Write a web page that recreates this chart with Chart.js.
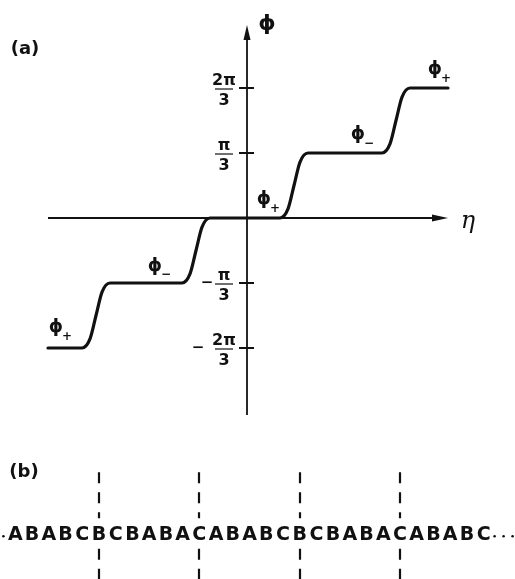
<!DOCTYPE html>
<html>
<head>
<meta charset="utf-8">
<script src="https://cdn.jsdelivr.net/npm/chart.js@4.4.1/dist/chart.umd.min.js"></script>
<style>
    html, body { margin: 0; padding: 0; background: #fff; }
    #wrap { position: relative; width: 515px; height: 579px; }
</style>
</head>
<body>
<div id="wrap"><canvas id="chart"></canvas></div>
<script>
// phase phi (in units of pi/3) against eta
const ETA = [-1.99, -1.65, -1.57, -1.51, -1.45, -1.37,
    -0.65, -0.57, -0.51, -0.45, -0.37,
    0.33, 0.41, 0.47, 0.53, 0.61,
    1.35, 1.43, 1.49, 1.55, 1.63, 2.01];
const PHI = [-2, -2, -1.86, -1.5, -1.14, -1,
    -1, -0.86, -0.5, -0.14, 0,
    0, 0.14, 0.5, 0.86, 1,
    1, 1.14, 1.5, 1.86, 2, 2];

// phi axis ticks, as fractions of pi
const TICK_VALUES = [2, 1, -1, -2];
const TICK_SIGNS = ['', '', '−', '−'];
const TICK_NUMS = ['2π', 'π', 'π', '2π'];
const TICK_DENS = ['3', '3', '3', '3'];

// plateau names phi+ / phi-
const PLATEAU_SIGNS = ['+', '−', '+', '−', '+'];
const PLATEAU_ETA = [-1.88, -0.89, 0.20, 1.14, 1.91];
const PLATEAU_PHI = [-1.72, -0.77, 0.25, 1.25, 2.25];

// panel (b): stacking sequence and the cuts between domains
const SEQUENCE = 'ABABCBCBABACABABCBCBABACABABC'.split('');
const CUT_INDEX = [5, 11, 17, 23];
const CUT_ETA = [-1.48, -0.48, 0.53, 1.53];

const INK = '#111';
const ETA_AXIS = [-1.99, 2.01];
const PHI_AXIS = [-3.03, 2.97];
const SEQ_PHI = -4.88;

const cutDatasets = CUT_ETA.map((eta) => ({
    data: [
        { x: eta, y: -3.91 }, { x: eta, y: -4.62 }, { x: eta, y: null },
        { x: eta, y: -5.09 }, { x: eta, y: -5.6 },
    ],
    showLine: true,
    spanGaps: false,
    borderColor: INK,
    borderWidth: 2.2,
    borderDash: [11, 9],
    pointRadius: 0,
    tension: 0,
}));

const text = (ctx, str, px, py, font, align = 'center') => {
    ctx.font = font;
    ctx.textAlign = align;
    ctx.textBaseline = 'middle';
    ctx.fillText(str, px, py);
};

const figurePlugin = {
    id: 'figure',
    beforeDatasetsDraw(chart) {
        const { ctx, scales: { x, y } } = chart;
        const x0 = x.getPixelForValue(0);
        const y0 = y.getPixelForValue(0);
        ctx.save();
        ctx.strokeStyle = INK;
        ctx.fillStyle = INK;
        ctx.lineWidth = 1.8;

        // eta axis with arrow
        const xl = x.getPixelForValue(ETA_AXIS[0]);
        const xr = x.getPixelForValue(ETA_AXIS[1]);
        ctx.beginPath();
        ctx.moveTo(xl, y0);
        ctx.lineTo(xr - 8, y0);
        ctx.stroke();
        ctx.beginPath();
        ctx.moveTo(xr, y0);
        ctx.lineTo(xr - 16, y0 - 3.5);
        ctx.lineTo(xr - 16, y0 + 3.5);
        ctx.closePath();
        ctx.fill();

        // phi axis with arrow
        const yb = y.getPixelForValue(PHI_AXIS[0]);
        const yt = y.getPixelForValue(PHI_AXIS[1]);
        ctx.beginPath();
        ctx.moveTo(x0, yb);
        ctx.lineTo(x0, yt + 8);
        ctx.stroke();
        ctx.beginPath();
        ctx.moveTo(x0, yt);
        ctx.lineTo(x0 - 3.5, yt + 15);
        ctx.lineTo(x0 + 3.5, yt + 15);
        ctx.closePath();
        ctx.fill();

        // ticks and fraction labels
        TICK_VALUES.forEach((v, i) => {
            const ty = y.getPixelForValue(v);
            ctx.lineWidth = 2;
            ctx.beginPath();
            ctx.moveTo(x0 - 8, ty);
            ctx.lineTo(x0 + 7, ty);
            ctx.stroke();
            const cx = x0 - 23;
            text(ctx, TICK_NUMS[i], cx, ty - 7, 'bold 16px "DejaVu Sans"');
            text(ctx, TICK_DENS[i], cx, ty + 13, 'bold 16px "DejaVu Sans"');
            ctx.lineWidth = 1.2;
            ctx.beginPath();
            ctx.moveTo(cx - 9, ty + 1);
            ctx.lineTo(cx + 9, ty + 1);
            ctx.stroke();
            if (TICK_SIGNS[i]) {
                const w = TICK_NUMS[i].length > 1 ? 26 : 17;
                text(ctx, TICK_SIGNS[i], cx - w, ty, 'bold 15px "DejaVu Sans"');
            }
        });

        // axis names and panel tags
        text(ctx, 'ϕ', x0 + 20, yt - 1, 'bold 22px "DejaVu Sans"');
        text(ctx, 'η', xr + 20, y0 + 4, 'italic 24px "DejaVu Serif"');
        text(ctx, '(a)', 25, 49, 'bold 18px "DejaVu Sans"');
        text(ctx, '(b)', 24, 472, 'bold 18px "DejaVu Sans"');

        // plateau labels
        PLATEAU_SIGNS.forEach((s, i) => {
            const px = x.getPixelForValue(PLATEAU_ETA[i]);
            const py = y.getPixelForValue(PLATEAU_PHI[i]);
            text(ctx, 'ϕ', px - 3, py - 2, 'bold 18px "DejaVu Sans"');
            text(ctx, s, px + 8, py + 7, 'bold 12px "DejaVu Sans"');
        });

        // stacking sequence
        const sy = y.getPixelForValue(SEQ_PHI);
        const step = (CUT_ETA[3] - CUT_ETA[0]) / (CUT_INDEX[3] - CUT_INDEX[0]);
        SEQUENCE.forEach((ch, i) => {
            const eta = CUT_ETA[0] + (i - CUT_INDEX[0]) * step;
            text(ctx, ch, x.getPixelForValue(eta), sy, 'bold 19px "DejaVu Sans"');
        });
        const first = x.getPixelForValue(CUT_ETA[0] - CUT_INDEX[0] * step);
        const last = x.getPixelForValue(CUT_ETA[0] + (SEQUENCE.length - 1 - CUT_INDEX[0]) * step);
        [first - 12].concat([last + 11, last + 20, last + 29]).forEach((px) => {
            ctx.beginPath();
            ctx.arc(px, sy + 1, 1.3, 0, Math.PI * 2);
            ctx.fill();
        });
        ctx.restore();
    },
};

new Chart(document.getElementById('chart'), {
    type: 'scatter',
    data: {
        datasets: [
            {
                data: ETA.map((v, i) => ({ x: v, y: PHI[i] })),
                showLine: true,
                borderColor: INK,
                borderWidth: 3.2,
                pointRadius: 0,
                cubicInterpolationMode: 'monotone',
                borderCapStyle: 'round',
            },
            ...cutDatasets,
        ],
    },
    options: {
        responsive: true,
        maintainAspectRatio: false,
        animation: false,
        layout: { padding: 0 },
        scales: {
            x: { type: 'linear', min: -2.47, max: 2.68, display: false },
            y: { type: 'linear', min: -5.554, max: 3.354, display: false },
        },
        plugins: {
            legend: { display: false },
            tooltip: { enabled: false },
        },
    },
    plugins: [figurePlugin],
});
</script>
</body>
</html>
